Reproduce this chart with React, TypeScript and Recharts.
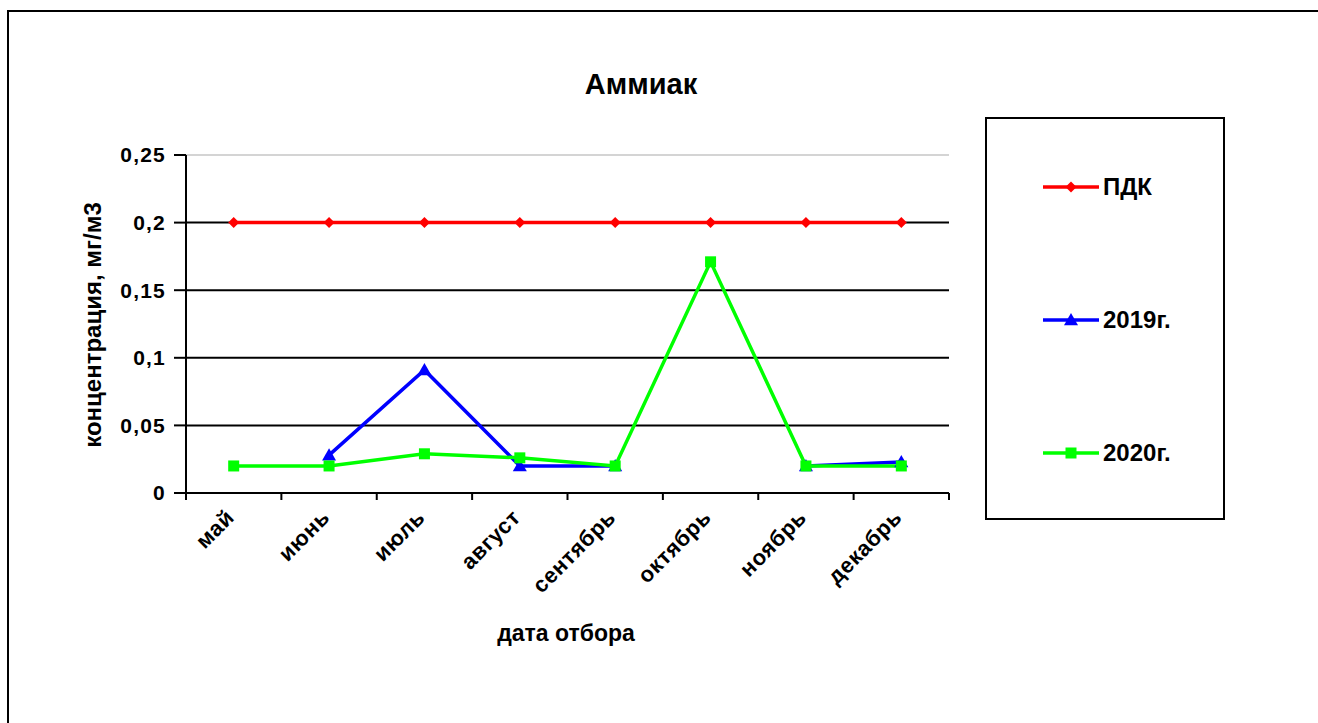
import React from 'react';
import { LineChart, Line, XAxis, YAxis, CartesianGrid, ReferenceLine } from 'recharts';

// категории и значения (мг/м3)
const months = ['май', 'июнь', 'июль', 'август', 'сентябрь', 'октябрь', 'ноябрь', 'декабрь'];
const pdk = [0.2, 0.2, 0.2, 0.2, 0.2, 0.2, 0.2, 0.2];
const values2019 = [null, 0.028, 0.091, 0.02, 0.02, null, 0.02, 0.023];
const values2020 = [0.02, 0.02, 0.029, 0.026, 0.02, 0.171, 0.02, 0.02];
const yTicks = [0, 0.05, 0.1, 0.15, 0.2, 0.25];

const data = months.map((name, i) => ({
  name,
  pdk: pdk[i],
  y2019: values2019[i],
  y2020: values2020[i],
}));

const FONT = '"Liberation Sans", Arial, sans-serif';
// полшага категории: ось 763px на 8 месяцев
const HALF_STEP = 763 / 16;

const Diamond = ({ cx, cy, fill, size = 5.5 }: any) => {
  if (cx == null || cy == null) return null;
  return <path d={`M${cx},${cy - size} L${cx + size},${cy} L${cx},${cy + size} L${cx - size},${cy} Z`} fill={fill} />;
};

const Triangle = ({ cx, cy, fill, size = 7 }: any) => {
  if (cx == null || cy == null) return null;
  return <path d={`M${cx},${cy - size} L${cx + size},${cy + size * 0.75} L${cx - size},${cy + size * 0.75} Z`} fill={fill} />;
};

const Square = ({ cx, cy, fill, size = 5.5 }: any) => {
  if (cx == null || cy == null) return null;
  return <rect x={cx - size} y={cy - size} width={size * 2} height={size * 2} fill={fill} />;
};

const series = [
  { key: 'pdk', name: 'ПДК', color: '#ff0000', Marker: Diamond },
  { key: 'y2019', name: '2019г.', color: '#0000ff', Marker: Triangle },
  { key: 'y2020', name: '2020г.', color: '#00ff00', Marker: Square },
];

const MonthTick = (props: any) => {
  const { x, y, payload, index } = props;
  const last = index === months.length - 1;
  const lx = x - 9;
  const ly = y + 15;
  return (
    <g>
      <line x1={x - HALF_STEP} x2={x - HALF_STEP} y1={y} y2={y + 7} stroke="#000" strokeWidth={2} />
      {last && <line x1={x + HALF_STEP} x2={x + HALF_STEP} y1={y} y2={y + 7} stroke="#000" strokeWidth={2} />}
      <text
        x={lx}
        y={ly}
        textAnchor="end"
        dy="0.7em"
        transform={`rotate(-45 ${lx} ${ly})`}
        fill="#000"
        fontSize={22}
        letterSpacing={0.6}
        fontWeight="bold"
        fontFamily={FONT}
      >
        {payload.value}
      </text>
    </g>
  );
};

function LegendBox() {
  return (
    <div style={{ position: 'absolute', left: 985, top: 117, width: 240, height: 403, boxSizing: 'border-box', border: '2.5px solid #000', background: '#fff' }}>
      {series.map((s, i) => (
        <div key={s.key} style={{ position: 'absolute', left: 54, top: 53 + i * 133, display: 'flex', alignItems: 'center' }}>
          <svg width={60} height={30}>
            <line x1={2} x2={58} y1={15} y2={15} stroke={s.color} strokeWidth={3.5} />
            <s.Marker cx={30} cy={15} fill={s.color} />
          </svg>
          <span style={{ fontFamily: FONT, fontWeight: 'bold', fontSize: 24, marginLeft: 2, color: '#000' }}>{s.name}</span>
        </div>
      ))}
    </div>
  );
}

export default function App() {
  return (
    <div style={{ position: 'fixed', left: 0, top: 0, width: 1318, height: 723, overflow: 'hidden', background: '#fff', fontFamily: FONT }}>
      <div style={{ position: 'absolute', left: 7, top: 10, width: 1400, height: 800, border: '2.5px solid #000' }} />
      <div style={{ position: 'absolute', left: 441, width: 400, top: 68, textAlign: 'center', fontSize: 29, fontWeight: 'bold' }}>Аммиак</div>
      <div
        style={{
          position: 'absolute',
          left: 93,
          top: 325,
          transform: 'translate(-50%, -50%) rotate(-90deg)',
          whiteSpace: 'nowrap',
          fontSize: 24,
          fontWeight: 'bold',
        }}
      >
        концентрация, мг/м3
      </div>
      <div style={{ position: 'absolute', left: 366, width: 400, top: 620, textAlign: 'center', fontSize: 23, fontWeight: 'bold' }}>дата отбора</div>
      <LegendBox />
      <LineChart width={1318} height={723} data={data} margin={{ top: 155, right: 369, left: 100, bottom: 130 }} style={{ position: 'absolute', left: 0, top: 0 }}>
        <CartesianGrid vertical={false} horizontalValues={[0.05, 0.1, 0.15, 0.2]} stroke="#000" strokeWidth={2} />
        <ReferenceLine y={0.25} stroke="#d4d4d4" strokeWidth={2} />
        <XAxis
          dataKey="name"
          height={100}
          padding={{ left: HALF_STEP, right: HALF_STEP }}
          tickSize={0}
          tickMargin={0}
          tickLine={false}
          axisLine={{ stroke: '#000', strokeWidth: 2 }}
          tick={<MonthTick />}
          interval={0}
        />
        <YAxis
          width={86}
          domain={[0, 0.25]}
          ticks={yTicks}
          tickFormatter={(v: number) => String(v).replace('.', ',')}
          tickSize={12}
          tickMargin={8}
          axisLine={{ stroke: '#000', strokeWidth: 2 }}
          tickLine={{ stroke: '#000', strokeWidth: 2 }}
          tick={{ fill: '#000', fontSize: 21, fontWeight: 'bold', fontFamily: FONT, letterSpacing: 1.2 }}
        />
        {series.map((s) => (
          <Line
            key={s.key}
            dataKey={s.key}
            name={s.name}
            stroke={s.color}
            strokeWidth={3.5}
            dot={<s.Marker fill={s.color} />}
            activeDot={false}
            isAnimationActive={false}
          />
        ))}
      </LineChart>
    </div>
  );
}
